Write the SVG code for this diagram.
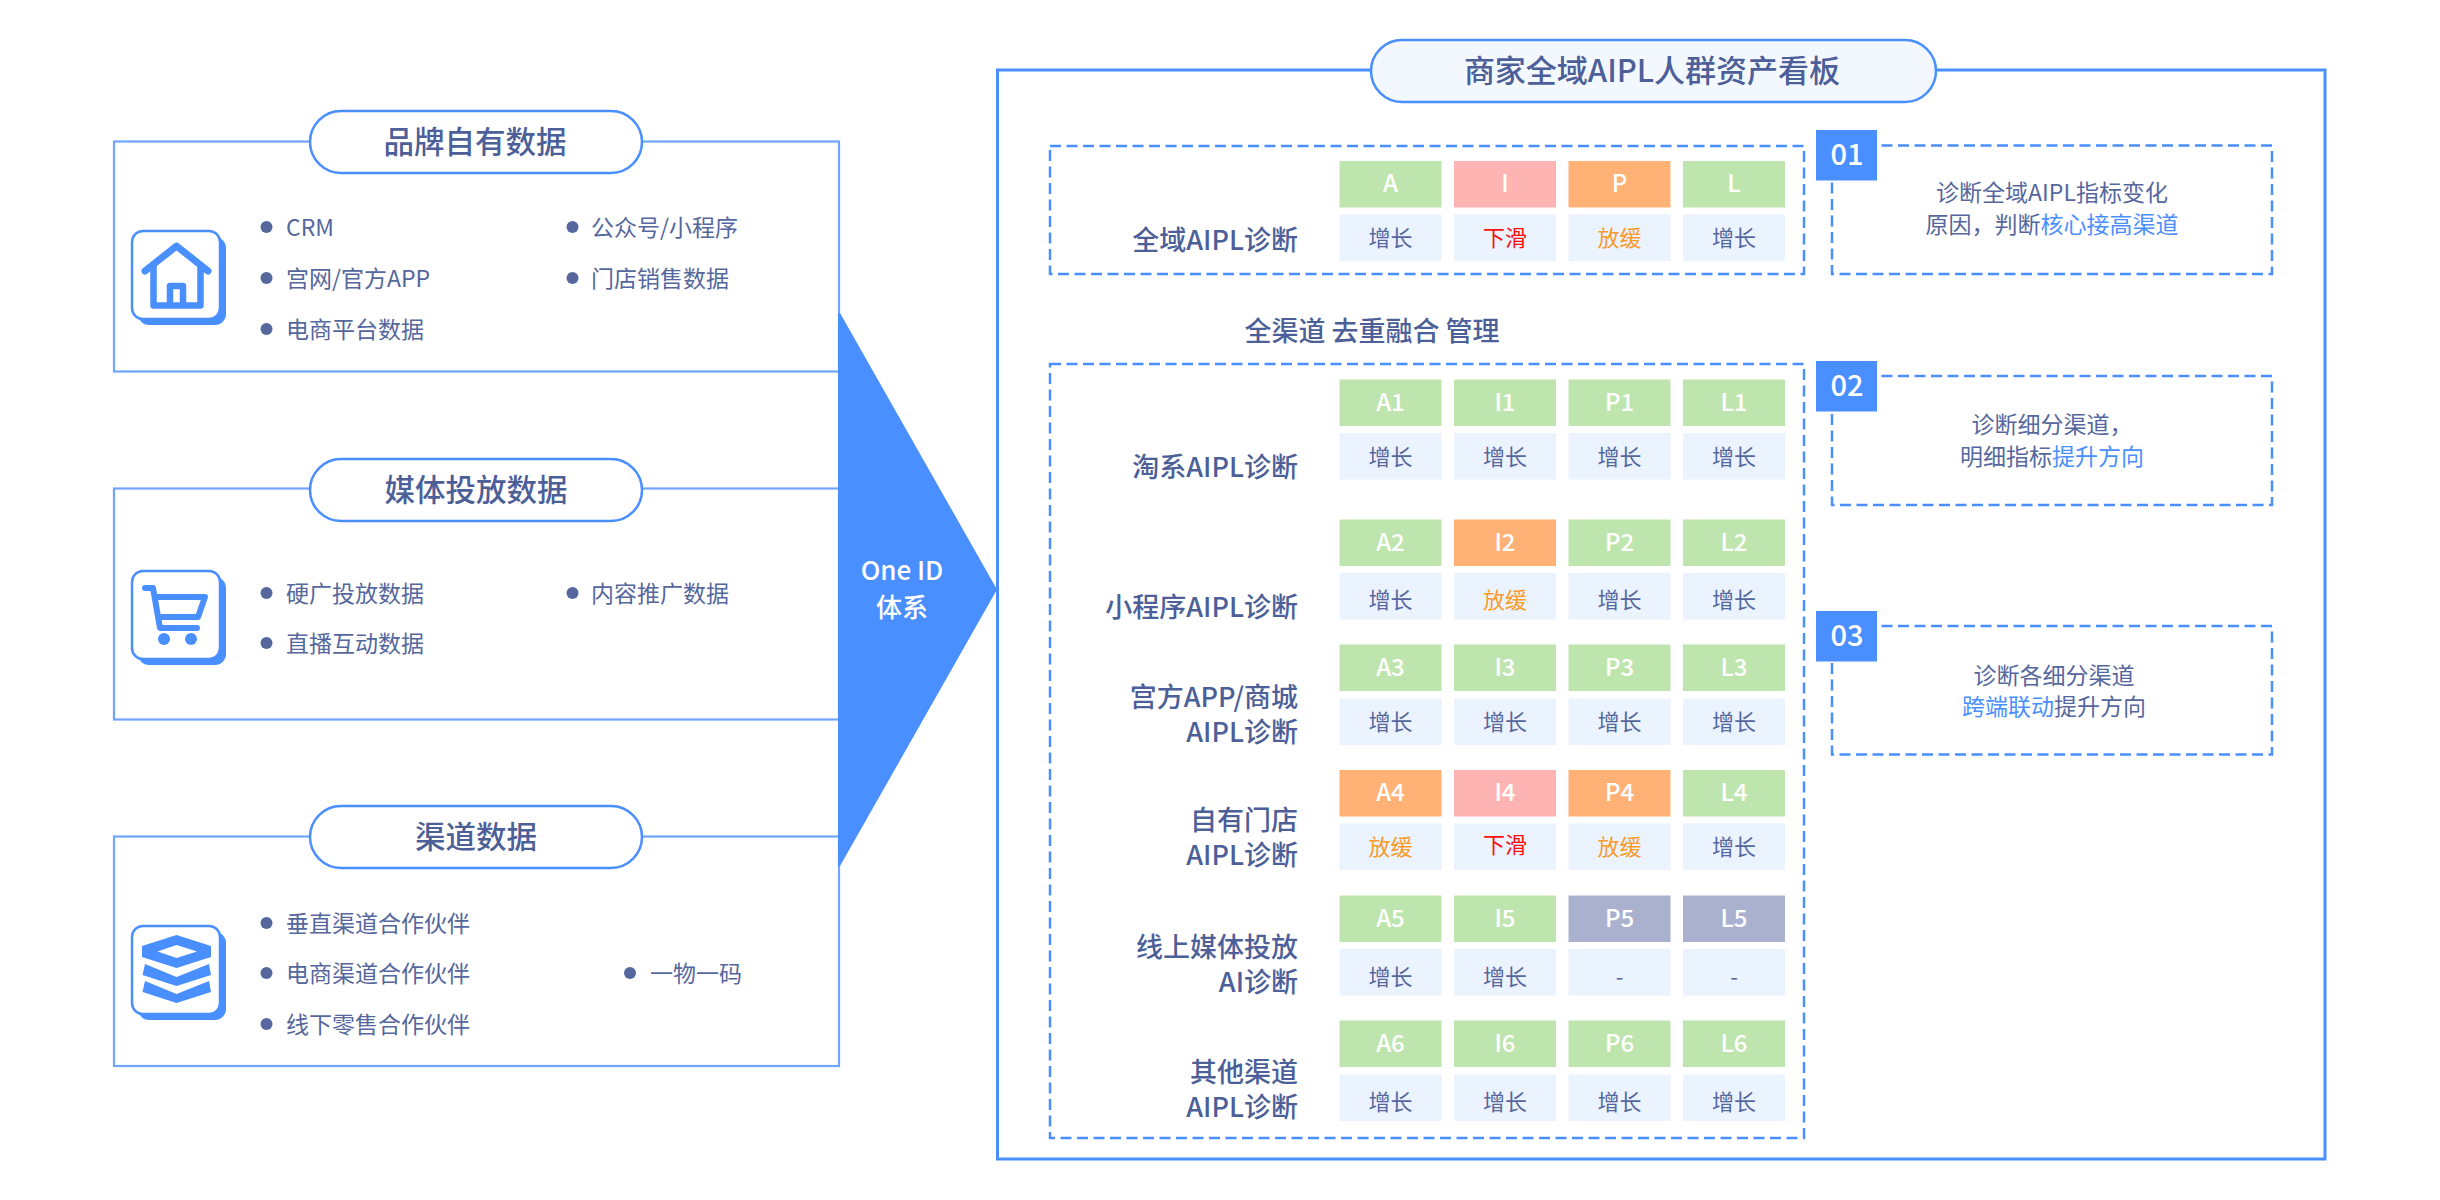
<svg xmlns="http://www.w3.org/2000/svg" width="2440" height="1200" viewBox="0 0 2440 1200">
<style>
text{font-family:"Noto Sans CJK SC","Noto Sans",sans-serif;fill:#55679d}
.frame{fill:#fff;stroke:#6fa5ff;stroke-width:2.200}
.pill{fill:#fff;stroke:#4a8fff;stroke-width:2.500}
.pt{font-size:30.500px;font-weight:500;text-anchor:middle;fill:#4d5f98}
.bl{fill:#55679d}
.li{font-size:23px}
.ib{fill:#fff;stroke:#4a8fff;stroke-width:2.500}
.is{fill:#4a8fff}
.ic{fill:none;stroke:#4a8fff;stroke-width:6;stroke-linecap:round;stroke-linejoin:round}
.dash{fill:none;stroke:#4a8fff;stroke-width:2.500;stroke-dasharray:11 5.500}
.lb{font-size:27px;font-weight:500;text-anchor:end;fill:#4d5f98}
.g{fill:#bfe5ae}.r{fill:#ffb4b4}.o{fill:#ffb176}.y{fill:#a9b1cf}.e{fill:#ebf3ff}
.ct{font-size:24px;font-weight:500;text-anchor:middle;fill:#fff}
.st{font-size:22px;text-anchor:middle}
.red{fill:#fb0f0f}.org{fill:#fa9a2a}
.bd{fill:#4a8fff}
.bt{font-size:29px;font-weight:500;text-anchor:middle;fill:#fff}
.nt{font-size:23px;text-anchor:middle}
.hl{fill:#4a8fff}
.title{font-size:31px;font-weight:500;text-anchor:middle;fill:#4d5f98}
.sub{font-size:27px;font-weight:500;text-anchor:middle;fill:#4d5f98}
.oid{font-size:26px;font-weight:500;text-anchor:middle;fill:#fff}
</style>

<g id="brand-data">
<rect class="frame" x="114" y="141.500" width="725" height="230"/>
<rect class="pill" x="310" y="111" width="332" height="62" rx="31"/>
<text class="pt" x="475" y="153">品牌自有数据</text>
<rect class="is" x="138" y="237" width="88" height="88" rx="11"/>
<rect class="ib" x="132" y="231" width="88" height="88" rx="11"/>
<path class="ic" d="M145 271L176.500 246L208 271" style="stroke-width:7"/>
<path class="ic" d="M153.500 266V305.500H200.500V266M170 305V286H183V305" style="stroke-width:6.500"/>
<circle class="bl" cx="266.500" cy="227" r="6"/><text class="li" x="286" y="236">CRM</text>
<circle class="bl" cx="266.500" cy="278" r="6"/><text class="li" x="286" y="287">宫网/官方APP</text>
<circle class="bl" cx="266.500" cy="329" r="6"/><text class="li" x="286" y="338">电商平台数据</text>
<circle class="bl" cx="572.500" cy="227" r="6"/><text class="li" x="591" y="236">公众号/小程序</text>
<circle class="bl" cx="572.500" cy="278" r="6"/><text class="li" x="591" y="287">门店销售数据</text>
</g>

<g id="media-data">
<rect class="frame" x="114" y="488.500" width="725" height="231"/>
<rect class="pill" x="310" y="459" width="332" height="62" rx="31"/>
<text class="pt" x="476" y="501">媒体投放数据</text>
<rect class="is" x="138" y="577" width="88" height="88" rx="11"/>
<rect class="ib" x="132" y="571" width="88" height="88" rx="11"/>
<path class="ic" d="M145 588H153L160 628H197M157 597H205L198 617H162"/>
<circle class="is" cx="164" cy="639" r="6"/><circle class="is" cx="191" cy="639" r="6"/>
<circle class="bl" cx="266.500" cy="593" r="6"/><text class="li" x="286" y="602">硬广投放数据</text>
<circle class="bl" cx="266.500" cy="643" r="6"/><text class="li" x="286" y="652">直播互动数据</text>
<circle class="bl" cx="572.500" cy="593" r="6"/><text class="li" x="591" y="602">内容推广数据</text>
</g>

<g id="channel-data">
<rect class="frame" x="114" y="836.500" width="725" height="229.500"/>
<rect class="pill" x="310" y="806" width="332" height="62" rx="31"/>
<text class="pt" x="476" y="848">渠道数据</text>
<rect class="is" x="138" y="932" width="88" height="88" rx="11"/>
<rect class="ib" x="132" y="926" width="88" height="88" rx="11"/>
<path class="is" fill-rule="evenodd" d="M176.500 935L211 946V957L176.500 968L142 957V946ZM176.500 945L157.500 951.500L176.500 958L197 951.500Z"/>
<path class="is" d="M145 964L176.500 977L209 964L211 975L176.500 986L142.500 975Z"/>
<path class="is" d="M145 981L176.500 994L209 981L211 992L176.500 1003L142.500 992Z"/>
<circle class="bl" cx="266.500" cy="923" r="6"/><text class="li" x="286" y="932">垂直渠道合作伙伴</text>
<circle class="bl" cx="266.500" cy="973" r="6"/><text class="li" x="286" y="982">电商渠道合作伙伴</text>
<circle class="bl" cx="266.500" cy="1024" r="6"/><text class="li" x="286" y="1033">线下零售合作伙伴</text>
<circle class="bl" cx="630" cy="973" r="6"/><text class="li" x="650" y="982">一物一码</text>
</g>

<g id="dashboard">
<rect x="997.500" y="70" width="1327.500" height="1089" fill="#fff" stroke="#4a8fff" stroke-width="3"/>
<rect x="1371" y="40" width="565" height="62" rx="31" fill="#f3f8ff" stroke="#4a8fff" stroke-width="2.500"/>
<text class="title" x="1652" y="82">商家全域AIPL人群资产看板</text>
</g>

<g id="one-id">
<path d="M838 313H840L997 589.500L840 866H838Z" fill="#4a8fff"/>
<text class="oid" x="902" y="580">One ID</text>
<text class="oid" x="902" y="617">体系</text>
</g>

<g id="global-aipl">
<rect class="dash" x="1050" y="146" width="754" height="128"/>
<text class="lb" x="1298" y="250">全域AIPL诊断</text>
<rect class="g" x="1339.500" y="161" width="102" height="46.500"/><text class="ct" x="1390.500" y="192">A</text>
<rect class="r" x="1454" y="161" width="102" height="46.500"/><text class="ct" x="1505" y="192">I</text>
<rect class="o" x="1568.500" y="161" width="102" height="46.500"/><text class="ct" x="1619.500" y="192">P</text>
<rect class="g" x="1683" y="161" width="102" height="46.500"/><text class="ct" x="1734" y="192">L</text>
<rect class="e" x="1339.500" y="214.500" width="102" height="46.500"/><text class="st" x="1390.500" y="246">增长</text>
<rect class="e" x="1454" y="214.500" width="102" height="46.500"/><text class="st red" x="1505" y="246">下滑</text>
<rect class="e" x="1568.500" y="214.500" width="102" height="46.500"/><text class="st org" x="1619.500" y="246">放缓</text>
<rect class="e" x="1683" y="214.500" width="102" height="46.500"/><text class="st" x="1734" y="246">增长</text>
</g>

<g id="channel-title">
<text class="sub" x="1372" y="341" xml:space="preserve">全渠道 去重融合 管理</text>
</g>

<g id="channels-aipl">
<rect class="dash" x="1050" y="364" width="754" height="774"/>

<text class="lb" x="1298" y="477">淘系AIPL诊断</text>
<rect class="g" x="1339.500" y="379.500" width="102" height="46.500"/><text class="ct" x="1390.500" y="411">A1</text>
<rect class="g" x="1454" y="379.500" width="102" height="46.500"/><text class="ct" x="1505" y="411">I1</text>
<rect class="g" x="1568.500" y="379.500" width="102" height="46.500"/><text class="ct" x="1619.500" y="411">P1</text>
<rect class="g" x="1683" y="379.500" width="102" height="46.500"/><text class="ct" x="1734" y="411">L1</text>
<rect class="e" x="1339.500" y="433" width="102" height="46.500"/><text class="st" x="1390.500" y="465">增长</text>
<rect class="e" x="1454" y="433" width="102" height="46.500"/><text class="st" x="1505" y="465">增长</text>
<rect class="e" x="1568.500" y="433" width="102" height="46.500"/><text class="st" x="1619.500" y="465">增长</text>
<rect class="e" x="1683" y="433" width="102" height="46.500"/><text class="st" x="1734" y="465">增长</text>

<text class="lb" x="1298" y="617">小程序AIPL诊断</text>
<rect class="g" x="1339.500" y="519.500" width="102" height="46.500"/><text class="ct" x="1390.500" y="551">A2</text>
<rect class="o" x="1454" y="519.500" width="102" height="46.500"/><text class="ct" x="1505" y="551">I2</text>
<rect class="g" x="1568.500" y="519.500" width="102" height="46.500"/><text class="ct" x="1619.500" y="551">P2</text>
<rect class="g" x="1683" y="519.500" width="102" height="46.500"/><text class="ct" x="1734" y="551">L2</text>
<rect class="e" x="1339.500" y="573" width="102" height="46.500"/><text class="st" x="1390.500" y="608">增长</text>
<rect class="e" x="1454" y="573" width="102" height="46.500"/><text class="st org" x="1505" y="608">放缓</text>
<rect class="e" x="1568.500" y="573" width="102" height="46.500"/><text class="st" x="1619.500" y="608">增长</text>
<rect class="e" x="1683" y="573" width="102" height="46.500"/><text class="st" x="1734" y="608">增长</text>

<text class="lb" x="1298" y="707">宫方APP/商城</text>
<text class="lb" x="1298" y="742">AIPL诊断</text>
<rect class="g" x="1339.500" y="644.500" width="102" height="46.500"/><text class="ct" x="1390.500" y="676">A3</text>
<rect class="g" x="1454" y="644.500" width="102" height="46.500"/><text class="ct" x="1505" y="676">I3</text>
<rect class="g" x="1568.500" y="644.500" width="102" height="46.500"/><text class="ct" x="1619.500" y="676">P3</text>
<rect class="g" x="1683" y="644.500" width="102" height="46.500"/><text class="ct" x="1734" y="676">L3</text>
<rect class="e" x="1339.500" y="698.500" width="102" height="46.500"/><text class="st" x="1390.500" y="730">增长</text>
<rect class="e" x="1454" y="698.500" width="102" height="46.500"/><text class="st" x="1505" y="730">增长</text>
<rect class="e" x="1568.500" y="698.500" width="102" height="46.500"/><text class="st" x="1619.500" y="730">增长</text>
<rect class="e" x="1683" y="698.500" width="102" height="46.500"/><text class="st" x="1734" y="730">增长</text>

<text class="lb" x="1298" y="830">自有门店</text>
<text class="lb" x="1298" y="865">AIPL诊断</text>
<rect class="o" x="1339.500" y="770" width="102" height="46.500"/><text class="ct" x="1390.500" y="801">A4</text>
<rect class="r" x="1454" y="770" width="102" height="46.500"/><text class="ct" x="1505" y="801">I4</text>
<rect class="o" x="1568.500" y="770" width="102" height="46.500"/><text class="ct" x="1619.500" y="801">P4</text>
<rect class="g" x="1683" y="770" width="102" height="46.500"/><text class="ct" x="1734" y="801">L4</text>
<rect class="e" x="1339.500" y="823.500" width="102" height="46.500"/><text class="st org" x="1390.500" y="855">放缓</text>
<rect class="e" x="1454" y="823.500" width="102" height="46.500"/><text class="st red" x="1505" y="853">下滑</text>
<rect class="e" x="1568.500" y="823.500" width="102" height="46.500"/><text class="st org" x="1619.500" y="855">放缓</text>
<rect class="e" x="1683" y="823.500" width="102" height="46.500"/><text class="st" x="1734" y="855">增长</text>

<text class="lb" x="1298" y="957">线上媒体投放</text>
<text class="lb" x="1298" y="992">AI诊断</text>
<rect class="g" x="1339.500" y="895.500" width="102" height="46.500"/><text class="ct" x="1390.500" y="927">A5</text>
<rect class="g" x="1454" y="895.500" width="102" height="46.500"/><text class="ct" x="1505" y="927">I5</text>
<rect class="y" x="1568.500" y="895.500" width="102" height="46.500"/><text class="ct" x="1619.500" y="927">P5</text>
<rect class="y" x="1683" y="895.500" width="102" height="46.500"/><text class="ct" x="1734" y="927">L5</text>
<rect class="e" x="1339.500" y="949" width="102" height="46.500"/><text class="st" x="1390.500" y="985">增长</text>
<rect class="e" x="1454" y="949" width="102" height="46.500"/><text class="st" x="1505" y="985">增长</text>
<rect class="e" x="1568.500" y="949" width="102" height="46.500"/><text class="st" x="1619.500" y="985">-</text>
<rect class="e" x="1683" y="949" width="102" height="46.500"/><text class="st" x="1734" y="985">-</text>

<text class="lb" x="1298" y="1082">其他渠道</text>
<text class="lb" x="1298" y="1117">AIPL诊断</text>
<rect class="g" x="1339.500" y="1020.500" width="102" height="46.500"/><text class="ct" x="1390.500" y="1052">A6</text>
<rect class="g" x="1454" y="1020.500" width="102" height="46.500"/><text class="ct" x="1505" y="1052">I6</text>
<rect class="g" x="1568.500" y="1020.500" width="102" height="46.500"/><text class="ct" x="1619.500" y="1052">P6</text>
<rect class="g" x="1683" y="1020.500" width="102" height="46.500"/><text class="ct" x="1734" y="1052">L6</text>
<rect class="e" x="1339.500" y="1074.500" width="102" height="46.500"/><text class="st" x="1390.500" y="1110">增长</text>
<rect class="e" x="1454" y="1074.500" width="102" height="46.500"/><text class="st" x="1505" y="1110">增长</text>
<rect class="e" x="1568.500" y="1074.500" width="102" height="46.500"/><text class="st" x="1619.500" y="1110">增长</text>
<rect class="e" x="1683" y="1074.500" width="102" height="46.500"/><text class="st" x="1734" y="1110">增长</text>
</g>

<g id="note-01">
<rect class="dash" x="1832" y="145.500" width="440" height="128.500"/>
<rect class="bd" x="1816" y="130" width="61" height="50.500"/>
<text class="bt" x="1847" y="165">01</text>
<text class="nt" x="2052" y="201">诊断全域AIPL指标变化</text>
<text class="nt" x="2052" y="233">原因，判断<tspan class="hl">核心接高渠道</tspan></text>
</g>
<g id="note-02">
<rect class="dash" x="1832" y="376" width="440" height="129"/>
<rect class="bd" x="1816" y="361" width="61" height="50.500"/>
<text class="bt" x="1847" y="396">02</text>
<text class="nt" x="2052" y="433">诊断细分渠道，</text>
<text class="nt" x="2052" y="465">明细指标<tspan class="hl">提升方向</tspan></text>
</g>
<g id="note-03">
<rect class="dash" x="1832" y="626" width="440" height="128.500"/>
<rect class="bd" x="1816" y="611" width="61" height="50.500"/>
<text class="bt" x="1847" y="646">03</text>
<text class="nt" x="2054" y="684">诊断各细分渠道</text>
<text class="nt" x="2054" y="715"><tspan class="hl">跨端联动</tspan>提升方向</text>
</g>
</svg>
